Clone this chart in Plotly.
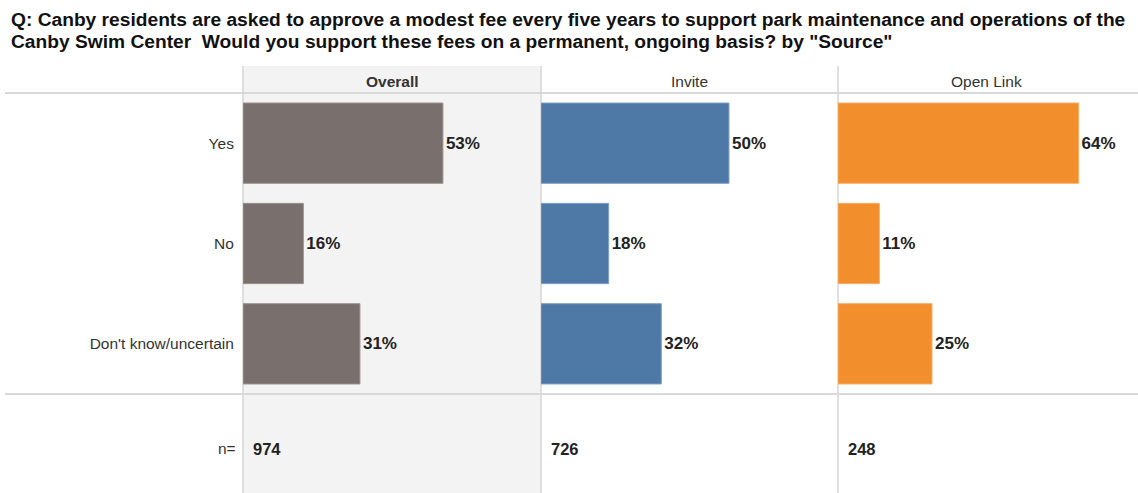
import plotly.graph_objects as go

# ---- data ----
categories = ["Yes", "No", "Don't know/uncertain"]
groups = ["Overall", "Invite", "Open Link"]
overall = [53, 16, 31]
invite = [50, 18, 32]
open_link = [64, 11, 25]
n_values = [974, 726, 248]
colors = ["#79706e", "#4e79a7", "#f28e2b"]
edge_colors = ["#9a918f", "#7f9fc4", "#f5ad66"]
title_lines = [
    "Q: Canby residents are asked to approve a modest fee every five years to support park maintenance and operations of the",
    "Canby Swim Center  Would you support these fees on a permanent, ongoing basis? by \"Source\"",
]

W, H = 1138, 493
FONT = "Arial, Liberation Sans, sans-serif"


def px(x):
    return x / W


def py(y):
    return 1 - y / H


col_edges = [243, 541, 838, 1135]
series = [overall, invite, open_link]

fig = go.Figure()
for i, (vals, color, ec) in enumerate(zip(series, colors, edge_colors)):
    sfx = "" if i == 0 else str(i + 1)
    fig.add_trace(go.Bar(
        x=vals, y=categories, orientation="h",
        marker=dict(color=color, line=dict(color=ec, width=1)),
        width=0.8,
        text=[f"{v}%" for v in vals], textposition="outside",
        textfont=dict(size=17, color="#222222", family=FONT, weight="bold"),
        cliponaxis=False, showlegend=False, hoverinfo="skip",
        xaxis="x" + sfx, yaxis="y" + sfx,
    ))
    xa = dict(domain=[px(col_edges[i]), px(col_edges[i + 1])], range=[0, 79],
              visible=False, fixedrange=True, anchor="y" + sfx)
    ya = dict(domain=[py(394), py(93)], range=[2.5, -0.5], type="category",
              showgrid=False, zeroline=False, showline=False, fixedrange=True,
              anchor="x" + sfx, showticklabels=(i == 0),
              ticks="outside" if i == 0 else "", ticklen=5, tickcolor="rgba(0,0,0,0)",
              tickfont=dict(size=15.5, color="#333333", family=FONT))
    fig.layout["xaxis" + sfx] = xa
    fig.layout["yaxis" + sfx] = ya

shapes = []
# Overall column shading
shapes.append(dict(type="rect", xref="paper", yref="paper", x0=px(243), x1=px(541),
                   y0=0, y1=py(66), fillcolor="#f3f3f3", line=dict(width=0), layer="below"))
# vertical separators
for xv in col_edges[:3]:
    shapes.append(dict(type="line", xref="paper", yref="paper", x0=px(xv), x1=px(xv),
                       y0=0, y1=py(66), line=dict(color="#d6d6d6", width=1.5), layer="below"))
# horizontal separators
for yv in [93, 394]:
    shapes.append(dict(type="line", xref="paper", yref="paper", x0=px(5), x1=1,
                       y0=py(yv), y1=py(yv), line=dict(color="#d9d9d9", width=2), layer="below"))

annotations = []
for k, (line, yc) in enumerate(zip(title_lines, [19.5, 41.5])):
    annotations.append(dict(text="<b>" + line + "</b>", xref="paper", yref="paper",
                            x=px(9), y=py(yc), xanchor="left", yanchor="middle", align="left",
                            showarrow=False, font=dict(size=19.2, color="#111111", family=FONT)))
for i, g in enumerate(groups):
    label = f"<b>{g}</b>" if i == 0 else g
    annotations.append(dict(text=label, xref="paper", yref="paper",
                            x=px((col_edges[i] + col_edges[i + 1]) / 2), y=py(81),
                            xanchor="center", yanchor="middle", showarrow=False,
                            font=dict(size=15.5, color="#333333", family=FONT)))
    annotations.append(dict(text=f"<b>{n_values[i]}</b>", xref="paper", yref="paper",
                            x=px(col_edges[i] + 8), y=py(449), xanchor="left", yanchor="middle",
                            showarrow=False, font=dict(size=16.5, color="#222222", family=FONT)))
annotations.append(dict(text="n=", xref="paper", yref="paper", x=px(238), y=py(448),
                        xanchor="right", yanchor="middle", showarrow=False,
                        font=dict(size=15.5, color="#333333", family=FONT)))

fig.update_layout(
    width=W, height=H, margin=dict(l=0, r=0, t=0, b=0),
    paper_bgcolor="white", plot_bgcolor="rgba(0,0,0,0)",
    shapes=shapes, annotations=annotations, bargap=0.2,
    font=dict(family=FONT),
)

fig.write_html("out.html", config={"displayModeBar": False},
               post_script="document.body.style.margin='0px';")
